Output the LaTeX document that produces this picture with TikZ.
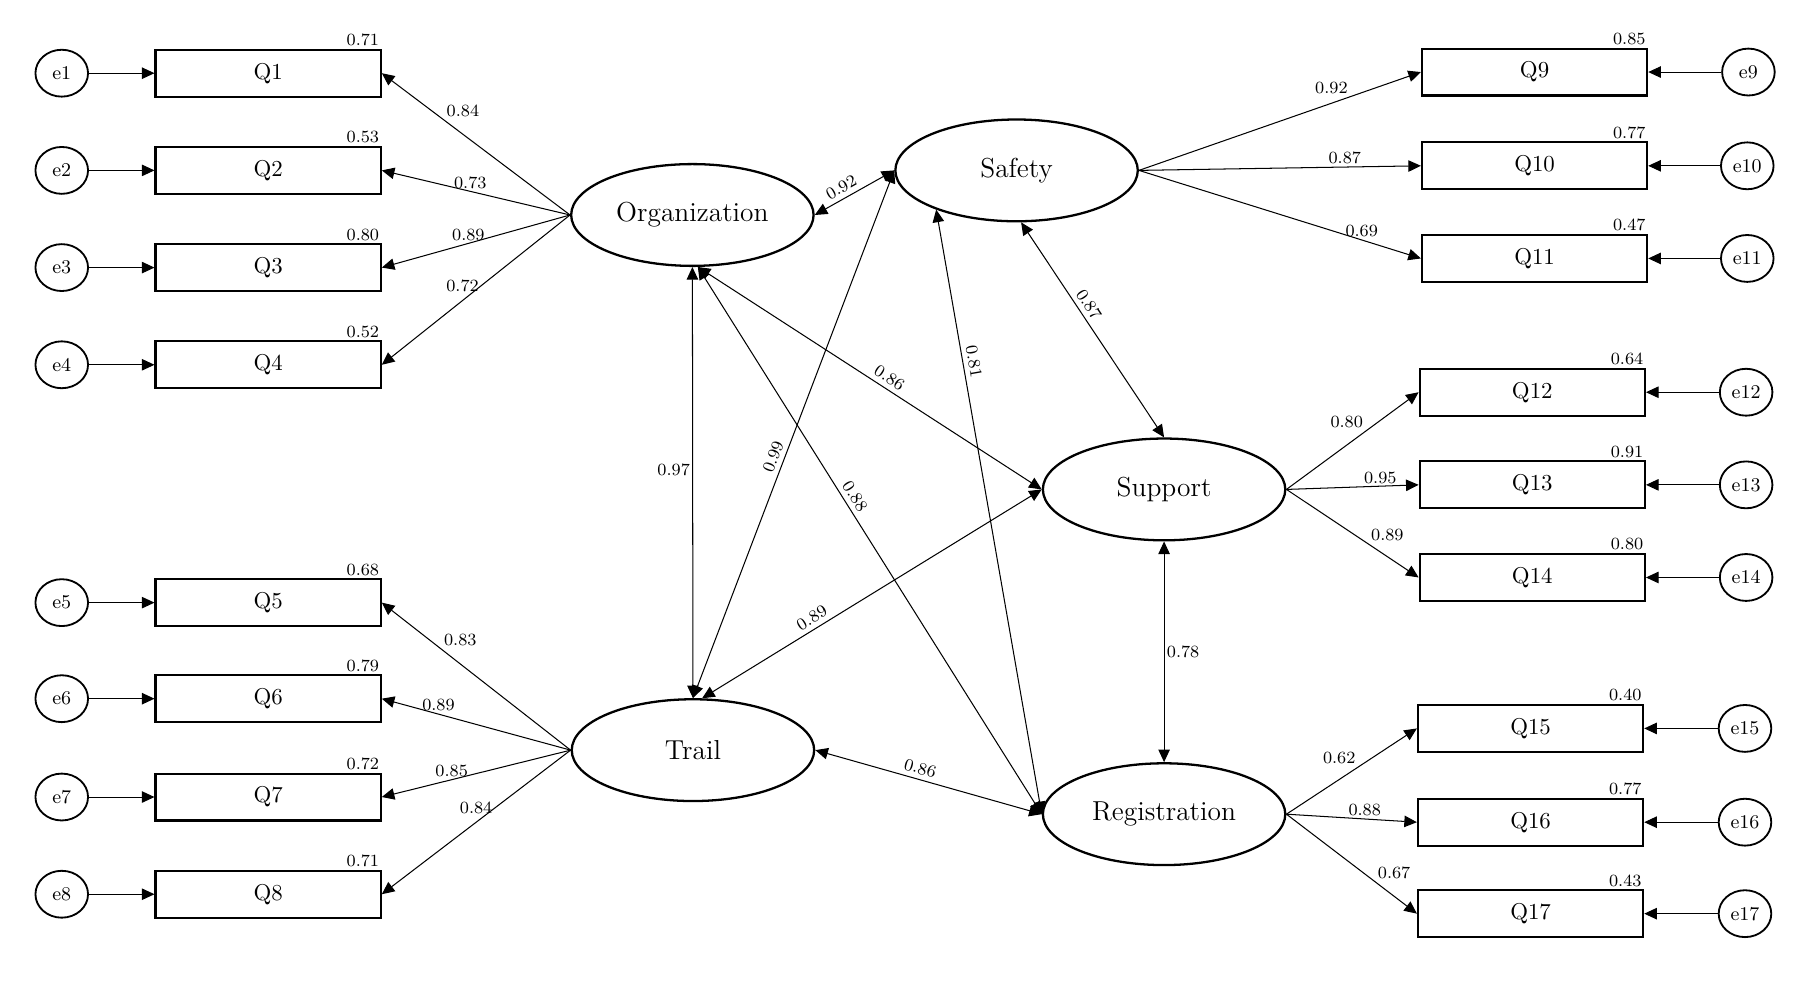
\documentclass[tikz,border=0pt]{standalone}
\usepackage{amsmath}
\usepackage{tikz}
\usetikzlibrary{arrows.meta,shapes.geometric}

\begin{document}
\begin{tikzpicture}[x=0.5pt,y=-0.5pt]
% Model style
\tikzset{
    latent/.style={draw, ellipse, line width=1pt, minimum width=106pt, minimum height=44.5pt, inner sep=0pt, font=\fontsize{12}{14}\selectfont},
    item/.style={draw, rectangle, line width=0.9pt, minimum width=98.5pt, minimum height=20.5pt, inner sep=0pt, font=\fontsize{10}{12}\selectfont},
    err/.style={draw, ellipse, line width=0.8pt, minimum width=23pt, minimum height=20.5pt, inner sep=0pt, font=\fontsize{8.5}{10}\selectfont},
    val/.style={font=\fontsize{7.5}{9}\selectfont, inner sep=1pt},
    cval/.style={val, sloped, above, inner sep=2pt},
    load/.style={-{Triangle[length=5.5pt,width=5pt]}, line width=0.45pt},
    cov/.style={{Triangle[length=5.5pt,width=5pt]}-{Triangle[length=5.5pt,width=5pt]}, line width=0.45pt}
}
\useasboundingbox (0,0) rectangle (1568,858);
% Latent variables
\node[latent] (Org) at (605.5,188){Organization};
\node[latent] (Saf) at (889,149){Safety};
\node[latent] (Sup) at (1018,428){Support};
\node[latent] (Tra) at (606,656){Trail};
\node[latent] (Reg) at (1018,712){Registration};
% Items
\node[item] (Q1) at (234.5,64){Q1};
\node[item] (Q2) at (234.5,149){Q2};
\node[item] (Q3) at (234.5,234){Q3};
\node[item] (Q4) at (234.5,319){Q4};
\node[item] (Q5) at (234.5,527){Q5};
\node[item] (Q6) at (234.5,611){Q6};
\node[item] (Q7) at (234.5,697){Q7};
\node[item] (Q8) at (234.5,782){Q8};
\node[item] (Q9) at (1342,63){Q9};
\node[item] (Q10) at (1342,145){Q10};
\node[item] (Q11) at (1342,226){Q11};
\node[item] (Q12) at (1340,343){Q12};
\node[item] (Q13) at (1340,424){Q13};
\node[item] (Q14) at (1340,505){Q14};
\node[item] (Q15) at (1338.5,637){Q15};
\node[item] (Q16) at (1338.5,719){Q16};
\node[item] (Q17) at (1338.5,799){Q17};
% Errors
\node[err] (e1) at (54,64){e1};
\node[err] (e2) at (54,149){e2};
\node[err] (e3) at (54,234){e3};
\node[err] (e4) at (54,319){e4};
\node[err] (e5) at (54,527){e5};
\node[err] (e6) at (54,611){e6};
\node[err] (e7) at (54,697){e7};
\node[err] (e8) at (54,782){e8};
\node[err] (e9) at (1529,63){e9};
\node[err] (e10) at (1528,145){e10};
\node[err] (e11) at (1528,226){e11};
\node[err] (e12) at (1527,343){e12};
\node[err] (e13) at (1527,424){e13};
\node[err] (e14) at (1527,505){e14};
\node[err] (e15) at (1526,637){e15};
\node[err] (e16) at (1526,719){e16};
\node[err] (e17) at (1526,799){e17};
% Squared multiple correlations
\node[val, anchor=south east] at (Q1.north east){0.71};
\node[val, anchor=south east] at (Q2.north east){0.53};
\node[val, anchor=south east] at (Q3.north east){0.80};
\node[val, anchor=south east] at (Q4.north east){0.52};
\node[val, anchor=south east] at (Q5.north east){0.68};
\node[val, anchor=south east] at (Q6.north east){0.79};
\node[val, anchor=south east] at (Q7.north east){0.72};
\node[val, anchor=south east] at (Q8.north east){0.71};
\node[val, anchor=south east] at (Q9.north east){0.85};
\node[val, anchor=south east] at (Q10.north east){0.77};
\node[val, anchor=south east] at (Q11.north east){0.47};
\node[val, anchor=south east] at (Q12.north east){0.64};
\node[val, anchor=south east] at (Q13.north east){0.91};
\node[val, anchor=south east] at (Q14.north east){0.80};
\node[val, anchor=south east] at (Q15.north east){0.40};
\node[val, anchor=south east] at (Q16.north east){0.77};
\node[val, anchor=south east] at (Q17.north east){0.43};
% Error paths
\draw[load] (e1) -- (Q1);
\draw[load] (e2) -- (Q2);
\draw[load] (e3) -- (Q3);
\draw[load] (e4) -- (Q4);
\draw[load] (e5) -- (Q5);
\draw[load] (e6) -- (Q6);
\draw[load] (e7) -- (Q7);
\draw[load] (e8) -- (Q8);
\draw[load] (e9) -- (Q9);
\draw[load] (e10) -- (Q10);
\draw[load] (e11) -- (Q11);
\draw[load] (e12) -- (Q12);
\draw[load] (e13) -- (Q13);
\draw[load] (e14) -- (Q14);
\draw[load] (e15) -- (Q15);
\draw[load] (e16) -- (Q16);
\draw[load] (e17) -- (Q17);
% Loadings
\draw[load] (Org.west) -- node[val, anchor=south west, pos=.67]{0.84} (Q1.east);
\draw[load] (Org.west) -- node[val, above, pos=.53]{0.73} (Q2.east);
\draw[load] (Org.west) -- node[val, above, pos=.54]{0.89} (Q3.east);
\draw[load] (Org.west) -- node[val, left, pos=.47]{0.72} (Q4.east);
\draw[load] (Tra.west) -- node[val, anchor=south west, pos=.685]{0.83} (Q5.east);
\draw[load] (Tra.west) -- node[val, above, pos=.70]{0.89} (Q6.east);
\draw[load] (Tra.west) -- node[val, above, pos=.63]{0.85} (Q7.east);
\draw[load] (Tra.west) -- node[val, left, pos=.4]{0.84} (Q8.east);
\draw[load] (Saf.east) -- node[val, above left, pos=.75]{0.92} (Q9.west);
\draw[load] (Saf.east) -- node[val, above, pos=.73]{0.87} (Q10.west);
\draw[load] (Saf.east) -- node[val, above, pos=.79]{0.69} (Q11.west);
\draw[load] (Sup.east) -- node[val, above left, pos=.6]{0.80} (Q12.west);
\draw[load] (Sup.east) -- node[val, above, pos=.71]{0.95} (Q13.west);
\draw[load] (Sup.east) -- node[val, above right, pos=.62]{0.89} (Q14.west);
\draw[load] (Reg.east) -- node[val, above left, pos=.55]{0.62} (Q15.west);
\draw[load] (Reg.east) -- node[val, above, pos=.6]{0.88} (Q16.west);
\draw[load] (Reg.east) -- node[val, above right, pos=.68]{0.67} (Q17.west);
% Covariances
\draw[cov] (Org.east) -- node[cval, pos=.4]{0.92} (Saf.west);
\draw[cov] (Org.south) -- node[val, left, pos=.47]{0.97} (Tra.north);
\draw[cov] (Tra.north) -- node[cval, pos=.45]{0.99} (Saf.west);
\draw[cov] (Org.-84) -- node[cval, pos=.54]{0.86} (Sup.west);
\draw[cov] (Org.-84) -- node[cval, pos=.43]{0.88} (Reg.west);
\draw[cov] (Saf.206) -- node[cval, pos=.255]{0.81} (Reg.west);
\draw[cov] (Saf.-85) -- node[cval, pos=.41]{0.87} (Sup.north);
\draw[cov] (Tra.80) -- node[cval, pos=.34]{0.89} (Sup.west);
\draw[cov] (Sup.south) -- node[val, right, pos=.5]{0.78} (Reg.north);
\draw[cov] (Tra.east) -- node[cval, pos=.45]{0.86} (Reg.west);
\end{tikzpicture}
\end{document}
